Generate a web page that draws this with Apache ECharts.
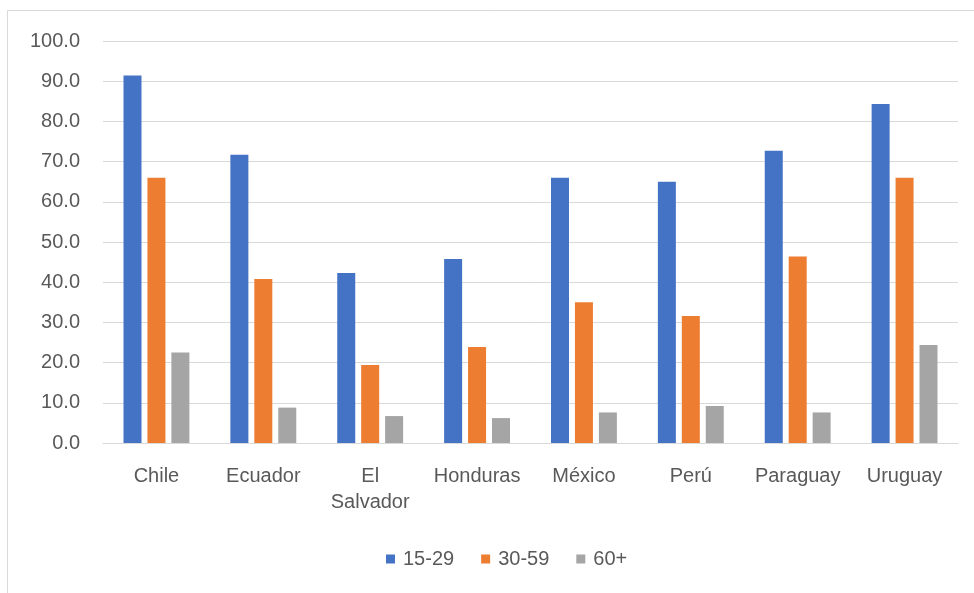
<!DOCTYPE html>
<html>
<head>
<meta charset="utf-8">
<script src="https://cdn.jsdelivr.net/npm/echarts@6/dist/echarts.min.js"></script>
<style>
html,body{margin:0;padding:0;background:#fff;}
#chart{width:974px;height:593px;}
</style>
</head>
<body>
<div id="chart"></div>
<script>
var categories = ['Chile', 'Ecuador', 'El Salvador', 'Honduras', 'México', 'Perú', 'Paraguay', 'Uruguay'];
var seriesNames = ['15-29', '30-59', '60+'];
var values1529 = [91.4, 71.7, 42.3, 45.8, 66.0, 65.0, 72.7, 84.3];
var values3059 = [66.0, 40.8, 19.4, 23.9, 35.0, 31.6, 46.4, 66.0];
var values60 = [22.5, 8.8, 6.7, 6.2, 7.6, 9.2, 7.6, 24.4];
var colors = ['#4472C4', '#ED7D31', '#A5A5A5'];

var FONT = '"Liberation Sans", Arial, sans-serif';
var chart = echarts.init(document.getElementById('chart'), null, {renderer: 'canvas'});
var allValues = [values1529, values3059, values60];
chart.setOption({
  animation: false,
  backgroundColor: '#fff',
  color: colors,
  graphic: [{
    type: 'rect',
    shape: {x: 7.5, y: 10.5, width: 1000, height: 1000},
    style: {fill: 'none', stroke: '#d9d9d9', lineWidth: 1},
    silent: true
  }],
  grid: {left: 103, right: 16, top: 41, bottom: 150},
  legend: {
    left: 381, top: 544,
    itemWidth: 9, itemHeight: 9, itemGap: 27,
    icon: 'rect',
    textStyle: {fontFamily: FONT, fontSize: 20, color: '#595959', padding: [0, 0, 0, 3]},
    data: seriesNames
  },
  xAxis: {
    type: 'category',
    data: categories,
    axisLine: {lineStyle: {color: '#d9d9d9'}},
    axisTick: {show: false},
    axisLabel: {
      interval: 0, margin: 20,
      fontFamily: FONT, fontSize: 20, color: '#595959', lineHeight: 26,
      formatter: function (v) { return v.replace(' ', '\n'); }
    }
  },
  yAxis: {
    type: 'value', min: 0, max: 100, interval: 10,
    axisLine: {show: false},
    axisTick: {show: false},
    splitLine: {lineStyle: {color: '#d9d9d9'}},
    axisLabel: {
      margin: 23, fontFamily: FONT, fontSize: 20, color: '#595959',
      padding: [0, 0, 6, 0],
      formatter: function (v) { return v.toFixed(1); }
    }
  },
  series: seriesNames.map(function (name, i) {
    return {
      name: name, type: 'bar', data: allValues[i],
      barWidth: 18, barGap: '33%',
      itemStyle: {color: colors[i]}
    };
  })
});
</script>
</body>
</html>
